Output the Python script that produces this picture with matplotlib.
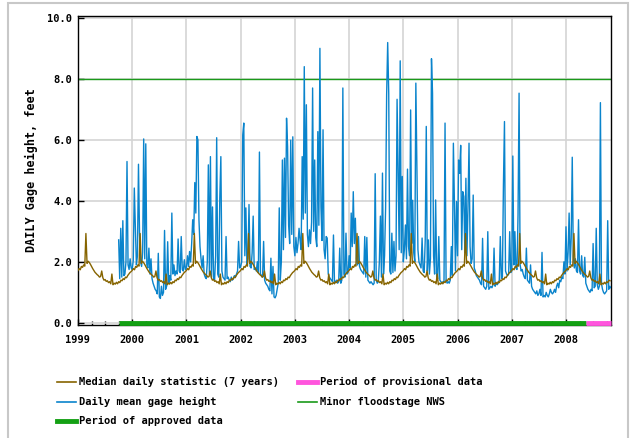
import numpy as np
import matplotlib.pyplot as plt
from matplotlib.lines import Line2D
from matplotlib.patches import Rectangle

# Daily mean gage height at roughly weekly steps,
# one list per water year (water year starts Oct 1 of previous year)
wy2000 = [2.72, 1.45, 3.1, 1.5, 3.35, 1.55, 1.6, 2.0, 5.29, 1.9, 1.75, 2.1, 1.8,
          1.75, 2.05, 4.42, 3.16, 1.9, 2.2, 5.2, 2.94, 2.0, 1.85, 2.3, 6.03, 2.1,
          5.87, 1.9, 1.8, 2.45, 1.6, 2.1, 1.45, 1.3, 1.2, 1.1, 1.05, 0.95, 2.28,
          0.85, 0.8, 1.2, 0.9, 1.0, 3.03, 1.1, 1.2, 2.66, 1.3, 1.55, 1.4, 3.6]
wy2001 = [1.6, 1.9, 1.55, 1.7, 1.6, 2.75, 1.7, 1.65, 2.83, 1.75, 1.7, 2.07, 1.75,
          1.8, 2.2, 1.85, 2.34, 2.0, 2.6, 3.38, 2.9, 4.6, 3.6, 6.11, 6.0, 3.38,
          2.5, 2.1, 1.8, 2.2, 1.6, 1.5, 1.45, 2.0, 5.18, 1.6, 5.45, 1.5, 3.8,
          1.45, 1.4, 2.2, 6.07, 1.6, 1.5, 4.1, 5.45, 1.7, 1.5, 1.45, 1.4, 2.83]
wy2002 = [1.45, 1.5, 1.4, 1.35, 1.5, 1.4, 1.45, 1.55, 1.5, 1.6, 1.7, 2.67, 1.8,
          1.85, 2.0, 6.16, 6.55, 2.2, 3.77, 1.9, 2.1, 3.88, 1.85, 1.8, 2.3, 3.5,
          1.75, 1.8, 1.7, 2.0, 1.65, 5.6, 1.6, 1.55, 1.5, 2.67, 1.4, 1.3, 1.25,
          1.2, 1.1, 1.05, 2.12, 0.95, 1.85, 0.85, 0.82, 0.9, 1.1, 1.3, 3.77, 1.4]
wy2003 = [2.0, 5.34, 2.4, 5.4, 2.8, 6.71, 5.78, 3.2, 2.6, 5.99, 2.9, 6.1, 2.5,
          2.2, 2.8, 2.3, 2.6, 3.1, 2.7, 2.4, 5.45, 3.4, 8.4, 3.6, 7.15, 2.9, 2.5,
          3.05, 2.6, 3.3, 7.7, 3.0, 5.34, 2.8, 2.5, 6.27, 3.2, 9.0, 3.8, 2.7,
          6.33, 2.4, 2.1, 2.83, 2.78, 1.6, 1.5, 1.45, 1.4, 1.35, 2.88, 1.3]
wy2004 = [1.35, 1.4, 1.3, 1.35, 2.45, 1.3, 1.4, 7.7, 1.6, 1.5, 2.94, 1.6, 1.65,
          2.2, 1.8, 3.6, 2.5, 4.3, 2.6, 3.43, 2.1, 1.9, 2.83, 1.85, 1.75, 1.7,
          1.65, 1.6, 2.83, 1.5, 2.8, 1.4, 1.35, 1.3, 1.35, 1.3, 1.25, 1.3, 4.89,
          1.4, 1.3, 1.35, 2.0, 3.5, 1.5, 4.91, 1.6, 2.2, 3.77, 7.48, 9.19, 7.53]
wy2005 = [1.7, 1.6, 2.94, 1.65, 2.67, 1.7, 2.2, 7.33, 5.02, 2.4, 8.59, 2.3, 4.8,
          2.0, 2.4, 3.21, 2.1, 5.04, 2.5, 2.2, 6.98, 2.6, 4.02, 2.3, 2.0, 7.86,
          5.18, 2.4, 2.0, 1.9, 1.8, 2.78, 1.7, 1.65, 2.72, 6.44, 1.7, 2.72, 1.6,
          2.1, 8.66, 7.53, 2.2, 1.6, 4.03, 1.5, 1.45, 2.83, 1.4, 1.35, 1.3, 1.35]
wy2006 = [1.35, 6.55, 1.4, 1.3, 1.35, 1.3, 1.4, 2.5, 1.55, 5.89, 3.92, 1.7, 3.98,
          2.2, 5.34, 4.9, 5.82, 2.4, 4.3, 4.14, 2.3, 4.74, 2.2, 3.81, 5.89, 2.5,
          1.95, 2.1, 4.19, 1.8, 1.7, 1.55, 1.5, 1.45, 1.4, 1.3, 1.25, 2.77, 1.2,
          1.15, 1.1, 1.2, 2.99, 1.1, 1.15, 1.2, 1.15, 1.25, 2.45, 1.2, 1.3, 1.25]
wy2007 = [1.3, 1.4, 2.83, 1.45, 1.5, 4.53, 6.6, 1.7, 1.6, 1.55, 1.6, 2.99, 1.65,
          1.7, 5.47, 1.9, 2.99, 1.8, 1.75, 3.54, 7.53, 1.9, 1.7, 1.75, 1.6, 1.5,
          1.45, 2.45, 1.4, 1.35, 1.3, 1.9, 1.2, 1.1, 1.05, 1.0, 0.95, 1.05, 0.9,
          0.95, 1.1, 0.9, 2.31, 0.85, 0.9, 0.85, 1.0, 0.9, 0.85, 0.95, 1.1, 1.0]
wy2008 = [0.95, 1.0, 1.1, 1.0, 1.2, 1.3, 1.15, 1.4, 1.35, 1.5, 1.45, 2.0, 1.6,
          3.15, 1.7, 2.3, 3.6, 1.9, 2.77, 5.43, 2.2, 1.8, 2.1, 1.7, 1.65, 3.38,
          1.7, 1.6, 2.2, 1.55, 1.5, 2.15, 1.3, 1.2, 1.1, 1.05, 1.0, 1.1, 1.05,
          2.6, 1.15, 1.2, 3.1, 1.25, 1.1, 1.2, 7.22, 1.3, 1.1, 1.0, 0.95, 1.0]
wy2009 = [1.05, 3.35, 1.1, 1.2, 1.15]
water_years = [wy2000, wy2001, wy2002, wy2003, wy2004, wy2005, wy2006,
               wy2007, wy2008, wy2009]

# Median daily statistic (7 years), same for every calendar year, 48 steps/yr
median_year = [1.72, 1.78, 1.74, 1.85, 1.82, 1.9, 1.86, 2.93, 1.95, 2.02, 1.98,
               1.92, 1.85, 1.78, 1.72, 1.66, 1.62, 1.58, 1.55, 1.5, 1.52, 1.7,
               1.48, 1.4, 1.42, 1.36, 1.38, 1.32, 1.35, 1.28, 1.6, 1.25, 1.3,
               1.27, 1.33, 1.28, 1.35, 1.32, 1.4, 1.38, 1.45, 1.42, 1.5, 1.48,
               1.55, 1.6, 1.65, 1.68]

years = [1999, 2000, 2001, 2002, 2003, 2004, 2005, 2006, 2007, 2008]
x_end = 2008.83
approved = (1999.75, 2008.37)
provisional = (2008.37, 2008.83)
flood_stage = 8.0

blue_t = np.concatenate([1999.75 + k + np.arange(len(v)) / 52
                         for k, v in enumerate(water_years)])
blue_v = np.concatenate(water_years)
med_t = 1999 + np.arange(48 * 10) / 48
med_v = np.tile(median_year, 10)
keep = med_t <= x_end
med_t, med_v = med_t[keep], med_v[keep]

mono = 'DejaVu Sans Mono'
fig = plt.figure(figsize=(6.37, 4.38), dpi=100)
ax = fig.add_axes([78 / 637, 1 - 325 / 438, (611 - 78) / 637, (325 - 15.7) / 438])

ax.plot(blue_t, blue_v, color='#0a84cc', lw=1.0, zorder=3)
ax.plot(med_t, med_v, color='#866400', lw=1.0, zorder=4)
ax.axhline(flood_stage, color='#1a9a1a', lw=1.0, zorder=2)
ax.plot(approved, [0, 0], color='#13a013', lw=3.5, solid_capstyle='butt',
        zorder=5, clip_on=False)
ax.plot(provisional, [0, 0], color='#ff55dd', lw=3.5, solid_capstyle='butt',
        zorder=5, clip_on=False)

ax.set_xlim(1999.0, x_end)
ax.set_ylim(-0.07, 10.07)
ax.set_xticks(years)
ax.set_xticks(np.arange(1999, 2009, 0.25), minor=True)
ax.set_yticks(np.arange(0, 10.1, 2))
ax.set_yticklabels(['%.1f' % v for v in np.arange(0, 10.1, 2)])
ax.grid(True, which='major', color='#d4d4d4', lw=1.2, zorder=0)
ax.set_axisbelow(True)
ax.tick_params(axis='x', which='major', direction='in', length=4,
               width=1, pad=7, labelsize=7.5)
ax.tick_params(axis='y', which='major', direction='in', length=4,
               width=1, pad=4, labelsize=7.5)
ax.tick_params(axis='x', which='minor', direction='in', length=3, width=1)
for lab in ax.get_xticklabels() + ax.get_yticklabels():
    lab.set_fontfamily(mono)
    lab.set_fontweight('bold')
for s in ax.spines.values():
    s.set_linewidth(1.0)
ax.set_ylabel('DAILY Gage height, feet', fontfamily=mono, fontweight='bold',
              fontsize=8.5, labelpad=7)

# legend, drawn below the plot in two columns
entries = [
    ('Median daily statistic (7 years)', '#866400', 1.2, 57 / 637, 382),
    ('Daily mean gage height', '#0a84cc', 1.2, 57 / 637, 401.5),
    ('Period of approved data', '#13a013', 3.5, 57 / 637, 420.5),
    ('Period of provisional data', '#ff55dd', 3.5, 298 / 637, 382),
    ('Minor floodstage NWS', '#1a9a1a', 1.2, 298 / 637, 401.5),
]
for label, col, lw, x0, ypx in entries:
    yf = 1 - ypx / 438
    fig.add_artist(Line2D([x0, x0 + 19 / 637], [yf, yf], color=col, lw=lw,
                          transform=fig.transFigure))
    fig.text(x0 + 22 / 637, yf, label, fontfamily=mono, fontweight='bold',
             fontsize=7.5, va='center', ha='left')

fig.add_artist(Rectangle((8 / 637, -0.02), 620 / 637, 1 - 3 / 438 + 0.02,
                         transform=fig.transFigure, fill=False,
                         edgecolor='#c8c8c8', lw=1.5))

fig.savefig('out.png', dpi=100)
